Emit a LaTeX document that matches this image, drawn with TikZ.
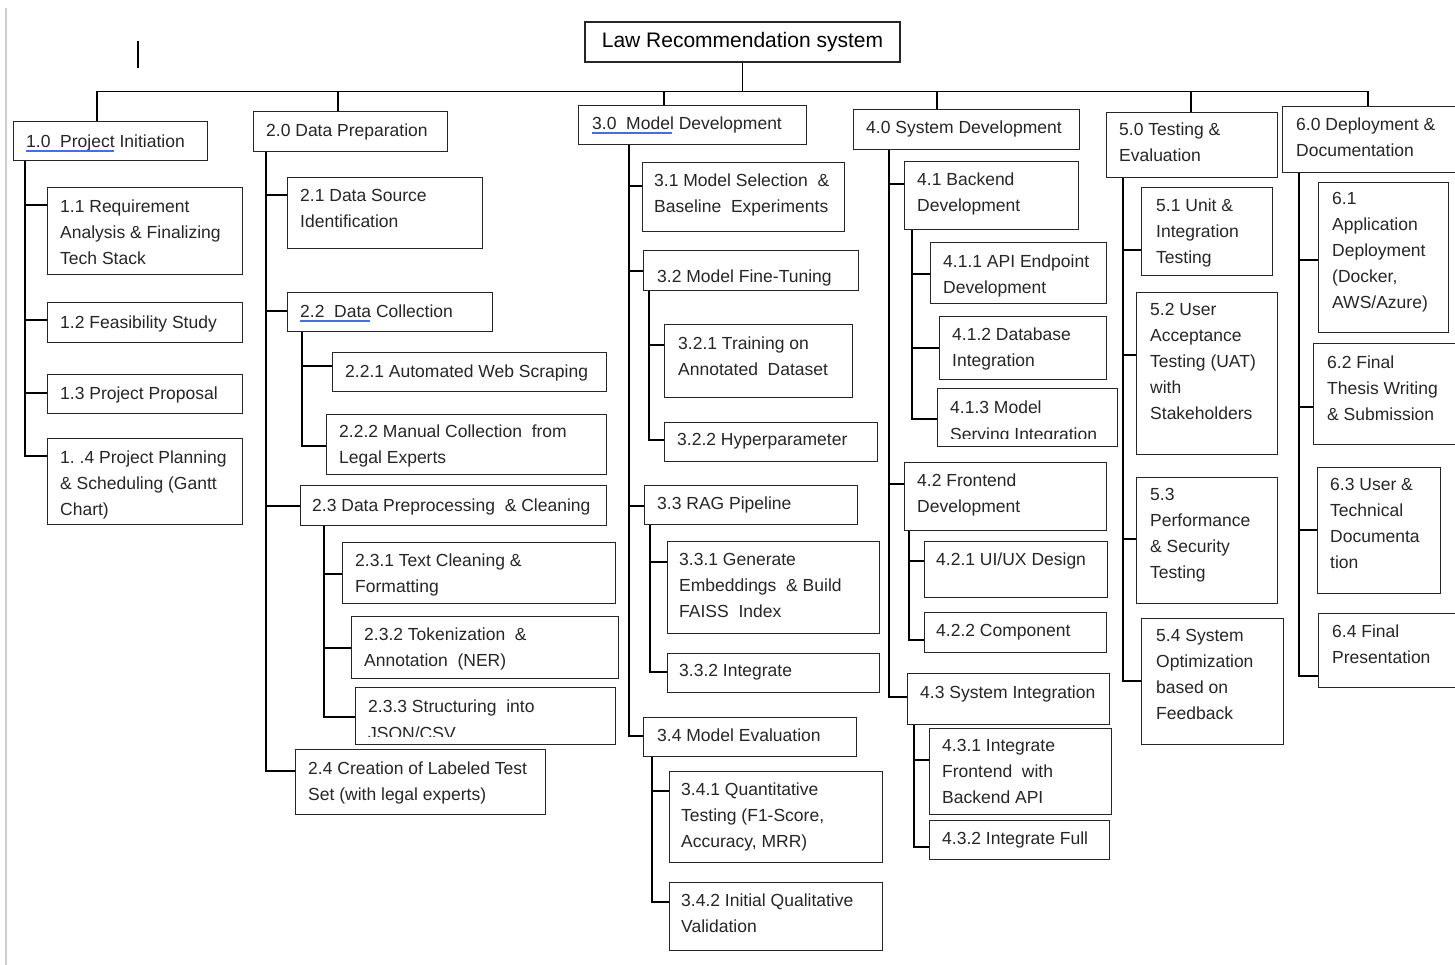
\documentclass[tikz,border=0pt]{standalone}
\usepackage{fontspec}
\setmainfont{Liberation Sans}
\definecolor{spellblue}{RGB}{70,110,220}

\begin{document}
\begin{tikzpicture}[
		x=1pt, y=-1pt
		,box/.style={draw=black!85, line width=1.2pt, anchor=north west, inner sep=0pt}
		,txt/.style={anchor=north west, yshift=12.6pt, align=left, inner sep=0pt, text=black!85, font=\fontsize{17.5}{26}\selectfont}
		,link/.style={draw=black, line width=1.2pt}
		,spell/.style={draw=spellblue, line width=1.6pt}
	]
		\fill[white] (0,0) rectangle (1455,965);
		\useasboundingbox (0,0) rectangle (1455,965);
		\draw[black!20, line width=2pt] (6,8) -- (6,965);
		\draw[line width=1.2pt] (138,41) -- (138,68);

		\node[draw=black!85, line width=1.2pt, minimum width=315, minimum height=40, inner sep=0pt, font=\fontsize{21}{25}\selectfont] (root) at (742.5,42) {Law Recommendation system};
		\coordinate (bus) at ([yshift=-29]root.south);

		% 1.0
		\node[box, minimum width=194, minimum height=39] (b10) at (13,121) {};
		\node[txt] (t10) at ([shift={(13,26)}]b10.north west) {1.0~~Project Initiation};
		\node[box, minimum width=195, minimum height=87] (b11) at (47,187) {};
		\node[txt] (t11) at ([shift={(13,25)}]b11.north west) {1.1 Requirement\\Analysis \& Finalizing\\Tech Stack};
		\node[box, minimum width=195, minimum height=40] (b12) at (47,302) {};
		\node[txt] (t12) at ([shift={(13,26)}]b12.north west) {1.2 Feasibility Study};
		\node[box, minimum width=195, minimum height=39] (b13) at (47,374) {};
		\node[txt] (t13) at ([shift={(13,25)}]b13.north west) {1.3 Project Proposal};
		\node[box, minimum width=195, minimum height=86] (b14) at (47,438) {};
		\node[txt] (t14) at ([shift={(13,25)}]b14.north west) {1.~.4 Project Planning\\\& Scheduling (Gantt\\Chart)};

		% 2.0
		\node[box, minimum width=194, minimum height=40] (b20) at (253,111) {};
		\node[txt] (t20) at ([shift={(13,25)}]b20.north west) {2.0 Data Preparation};
		\node[box, minimum width=195, minimum height=71] (b21) at (287,177) {};
		\node[txt] (t21) at ([shift={(13,25)}]b21.north west) {2.1 Data Source\\Identification};
		\node[box, minimum width=205, minimum height=39] (b22) at (287,292) {};
		\node[txt] (t22) at ([shift={(13,25)}]b22.north west) {2.2~~Data Collection};
		\node[box, minimum width=274, minimum height=39] (b221) at (332,352) {};
		\node[txt] (t221) at ([shift={(13,25)}]b221.north west) {2.2.1 Automated Web Scraping};
		\node[box, minimum width=280, minimum height=60] (b222) at (326,414) {};
		\node[txt] (t222) at ([shift={(13,23)}]b222.north west) {2.2.2 Manual Collection~~from\\Legal Experts};
		\node[box, minimum width=306, minimum height=40] (b23) at (300,485) {};
		\node[txt] (t23) at ([shift={(12,26)}]b23.north west) {2.3 Data Preprocessing~~\& Cleaning};
		\node[box, minimum width=273, minimum height=61] (b231) at (342,542) {};
		\node[txt] (t231) at ([shift={(13,24)}]b231.north west) {2.3.1 Text Cleaning~\&\\Formatting};
		\node[box, minimum width=267, minimum height=62] (b232) at (351,616) {};
		\node[txt] (t232) at ([shift={(13,24)}]b232.north west) {2.3.2 Tokenization~~\&\\Annotation~~(NER)};
		\node[box, minimum width=260, minimum height=57] (b233) at (355,687) {};
		\begin{scope}
			\clip (b233.north west) rectangle ([yshift=9]b233.south east);
			\node[txt] (t233) at ([shift={(13,25)}]b233.north west) {2.3.3 Structuring~~into\\[1pt]JSON/CSV};
		\end{scope}
		\node[box, minimum width=250, minimum height=65] (b24) at (295,749) {};
		\node[txt] (t24) at ([shift={(13,25)}]b24.north west) {2.4 Creation of Labeled Test\\Set (with legal experts)};

		% 3.0
		\node[box, minimum width=228, minimum height=39] (b30) at (578,105) {};
		\node[txt] (t30) at ([shift={(14,24)}]b30.north west) {3.0~~Model Development};
		\node[box, minimum width=202, minimum height=69] (b31) at (642,162) {};
		\node[txt] (t31) at ([shift={(12,24)}]b31.north west) {3.1 Model Selection~~\&\\Baseline~~Experiments};
		\node[box, minimum width=215, minimum height=40] (b32) at (643,250) {};
		\begin{scope}
			\clip (b32.north west) rectangle ([yshift=6]b32.south east);
			\node[txt] (t32) at ([shift={(14,32)}]b32.north west) {3.2 Model Fine-Tuning};
		\end{scope}
		\node[box, minimum width=188, minimum height=73] (b321) at (664,324) {};
		\node[txt] (t321) at ([shift={(14,25)}]b321.north west) {3.2.1 Training on\\Annotated~~Dataset};
		\node[box, minimum width=213, minimum height=39] (b322) at (664,422) {};
		\node[txt] (t322) at ([shift={(13,24)}]b322.north west) {3.2.2 Hyperparameter};
		\node[box, minimum width=213, minimum height=39] (b33) at (644,485) {};
		\node[txt] (t33) at ([shift={(13,24)}]b33.north west) {3.3 RAG Pipeline};
		\node[box, minimum width=212, minimum height=92] (b331) at (667,541) {};
		\node[txt] (t331) at ([shift={(12,25)}]b331.north west) {3.3.1 Generate\\Embeddings~~\& Build\\FAISS~~Index};
		\node[box, minimum width=212, minimum height=39] (b332) at (667,653) {};
		\node[txt] (t332) at ([shift={(12,24)}]b332.north west) {3.3.2 Integrate};
		\node[box, minimum width=213, minimum height=39] (b34) at (643,717) {};
		\node[txt] (t34) at ([shift={(14,24)}]b34.north west) {3.4 Model Evaluation};
		\node[box, minimum width=213, minimum height=91] (b341) at (669,771) {};
		\node[txt] (t341) at ([shift={(12,24)}]b341.north west) {3.4.1 Quantitative\\Testing (F1-Score,\\Accuracy, MRR)};
		\node[box, minimum width=213, minimum height=68] (b342) at (669,882) {};
		\node[txt] (t342) at ([shift={(12,24)}]b342.north west) {3.4.2 Initial Qualitative\\Validation};

		% 4.0
		\node[box, minimum width=226, minimum height=40] (b40) at (853,109) {};
		\node[txt] (t40) at ([shift={(13,24)}]b40.north west) {4.0 System Development};
		\node[box, minimum width=174, minimum height=68] (b41) at (904,161) {};
		\node[txt] (t41) at ([shift={(13,24)}]b41.north west) {4.1 Backend\\Development};
		\node[box, minimum width=176, minimum height=61] (b411) at (930,242) {};
		\node[txt] (t411) at ([shift={(13,25)}]b411.north west) {4.1.1 API Endpoint\\Development};
		\node[box, minimum width=167, minimum height=63] (b412) at (939,316) {};
		\node[txt] (t412) at ([shift={(13,24)}]b412.north west) {4.1.2 Database\\Integration};
		\node[box, minimum width=180, minimum height=58] (b413) at (937,388) {};
		\begin{scope}
			\clip (b413.north west) rectangle ([yshift=9]b413.south east);
			\node[txt] (t413) at ([shift={(13,25)}]b413.north west) {4.1.3 Model\\[1pt]Serving Integration};
		\end{scope}
		\node[box, minimum width=202, minimum height=68] (b42) at (904,462) {};
		\node[txt] (t42) at ([shift={(13,24)}]b42.north west) {4.2 Frontend\\Development};
		\node[box, minimum width=183, minimum height=56] (b421) at (924,541) {};
		\node[txt] (t421) at ([shift={(12,24)}]b421.north west) {4.2.1 UI/UX Design};
		\node[box, minimum width=182, minimum height=40] (b422) at (924,612) {};
		\node[txt] (t422) at ([shift={(12,25)}]b422.north west) {4.2.2 Component};
		\node[box, minimum width=202, minimum height=51] (b43) at (907,673) {};
		\node[txt] (t43) at ([shift={(13,25)}]b43.north west) {4.3 System Integration};
		\node[box, minimum width=182, minimum height=86] (b431) at (929,728) {};
		\node[txt] (t431) at ([shift={(13,24)}]b431.north west) {4.3.1 Integrate\\Frontend~~with\\Backend API};
		\node[box, minimum width=180, minimum height=39] (b432) at (929,820) {};
		\node[txt] (t432) at ([shift={(13,24)}]b432.north west) {4.3.2 Integrate Full};

		% 5.0
		\node[box, minimum width=171, minimum height=65] (b50) at (1106,112) {};
		\node[txt] (t50) at ([shift={(13,23)}]b50.north west) {5.0 Testing \&\\Evaluation};
		\node[box, minimum width=131, minimum height=88] (b51) at (1141,187) {};
		\node[txt] (t51) at ([shift={(15,24)}]b51.north west) {5.1 Unit \&\\Integration\\Testing};
		\node[box, minimum width=141, minimum height=162] (b52) at (1136,292) {};
		\node[txt] (t52) at ([shift={(14,24)}]b52.north west) {5.2 User\\Acceptance\\Testing (UAT)\\with\\Stakeholders};
		\node[box, minimum width=141, minimum height=126] (b53) at (1136,477) {};
		\node[txt] (t53) at ([shift={(14,24)}]b53.north west) {5.3\\Performance\\\& Security\\Testing};
		\node[box, minimum width=142, minimum height=126] (b54) at (1141,618) {};
		\node[txt] (t54) at ([shift={(15,24)}]b54.north west) {5.4 System\\Optimization\\based on\\Feedback};

		% 6.0
		\node[box, minimum width=188, minimum height=66] (b60) at (1282,106) {};
		\node[txt] (t60) at ([shift={(14,24)}]b60.north west) {6.0 Deployment \&\\Documentation};
		\node[box, minimum width=130, minimum height=150] (b61) at (1318,182) {};
		\node[txt] (t61) at ([shift={(14,23)}]b61.north west) {6.1\\Application\\Deployment\\(Docker,\\AWS/Azure)};
		\node[box, minimum width=157, minimum height=101] (b62) at (1313,343) {};
		\node[txt] (t62) at ([shift={(14,25)}]b62.north west) {6.2 Final\\Thesis Writing\\\& Submission};
		\node[box, minimum width=123, minimum height=126] (b63) at (1317,467) {};
		\node[txt] (t63) at ([shift={(13,24)}]b63.north west) {6.3 User \&\\Technical\\Documenta\\tion};
		\node[box, minimum width=152, minimum height=74] (b64) at (1318,613) {};
		\node[txt] (t64) at ([shift={(14,24)}]b64.north west) {6.4 Final\\Presentation};

		% spelling marks
		\draw[spell] ([yshift=-4]t10.base west) -- ++(88,0);
		\draw[spell] ([yshift=-4]t22.base west) -- ++(70,0);
		\draw[spell] ([yshift=-4]t30.base west) -- ++(80,0);

		% bus
		\draw[link] (root.south) -- (bus);
		\draw[link] ([xshift=84]b10.north west) |- (bus);
		\draw[link] ([xshift=85]b20.north west) |- (bus);
		\draw[link] ([xshift=86]b30.north west) |- (bus);
		\draw[link] ([xshift=84]b40.north west) |- (bus);
		\draw[link] ([xshift=85]b50.north west) |- (bus);
		\draw[link] ([xshift=86]b60.north west) |- (bus);

		% 1.0 branch
		\draw[link] ([xshift=12]b10.south west) |- ([yshift=-18]b11.north west);
		\draw[link] ([xshift=12]b10.south west) |- ([yshift=-18]b12.north west);
		\draw[link] ([xshift=12]b10.south west) |- ([yshift=-19]b13.north west);
		\draw[link] ([xshift=12]b10.south west) |- ([yshift=-18]b14.north west);

		% 2.0 branch
		\draw[link] ([xshift=13]b20.south west) |- ([yshift=-18]b21.north west);
		\draw[link] ([xshift=13]b20.south west) |- ([yshift=-19]b22.north west);
		\draw[link] ([xshift=13]b20.south west) |- ([yshift=-21]b23.north west);
		\draw[link] ([xshift=13]b20.south west) |- ([yshift=-22]b24.north west);
		\draw[link] ([xshift=15]b22.south west) |- ([yshift=-14]b221.north west);
		\draw[link] ([xshift=15]b22.south west) |- ([yshift=-32]b222.north west);
		\draw[link] ([xshift=24]b23.south west) |- ([yshift=-32]b231.north west);
		\draw[link] ([xshift=24]b23.south west) |- ([yshift=-32]b232.north west);
		\draw[link] ([xshift=24]b23.south west) |- ([yshift=-30]b233.north west);

		% 3.0 branch
		\draw[link] ([xshift=51]b30.south west) |- ([yshift=-24]b31.north west);
		\draw[link] ([xshift=51]b30.south west) |- ([yshift=-21]b32.north west);
		\draw[link] ([xshift=51]b30.south west) |- ([yshift=-21]b33.north west);
		\draw[link] ([xshift=51]b30.south west) |- ([yshift=-19]b34.north west);
		\draw[link] ([xshift=6]b32.south west) |- ([yshift=-21]b321.north west);
		\draw[link] ([xshift=6]b32.south west) |- ([yshift=-18]b322.north west);
		\draw[link] ([xshift=6]b33.south west) |- ([yshift=-21]b331.north west);
		\draw[link] ([xshift=6]b33.south west) |- ([yshift=-19]b332.north west);
		\draw[link] ([xshift=9]b34.south west) |- ([yshift=-20]b341.north west);
		\draw[link] ([xshift=9]b34.south west) |- ([yshift=-20]b342.north west);

		% 4.0 branch
		\draw[link] ([xshift=36]b40.south west) |- ([yshift=-23]b41.north west);
		\draw[link] ([xshift=36]b40.south west) |- ([yshift=-22]b42.north west);
		\draw[link] ([xshift=36]b40.south west) |- ([yshift=-24]b43.north west);
		\draw[link] ([xshift=8]b41.south west) |- ([yshift=-32]b411.north west);
		\draw[link] ([xshift=8]b41.south west) |- ([yshift=-32]b412.north west);
		\draw[link] ([xshift=8]b41.south west) |- ([yshift=-31]b413.north west);
		\draw[link] ([xshift=5]b42.south west) |- ([yshift=-20]b421.north west);
		\draw[link] ([xshift=5]b42.south west) |- ([yshift=-28]b422.north west);
		\draw[link] ([xshift=7]b43.south west) |- ([yshift=-32]b431.north west);
		\draw[link] ([xshift=7]b43.south west) |- ([yshift=-27]b432.north west);

		% 5.0 branch
		\draw[link] ([xshift=17]b50.south west) |- ([yshift=-63]b51.north west);
		\draw[link] ([xshift=17]b50.south west) |- ([yshift=-63]b52.north west);
		\draw[link] ([xshift=17]b50.south west) |- ([yshift=-62]b53.north west);
		\draw[link] ([xshift=17]b50.south west) |- ([yshift=-63]b54.north west);

		% 6.0 branch
		\draw[link] ([xshift=17]b60.south west) |- ([yshift=-78]b61.north west);
		\draw[link] ([xshift=17]b60.south west) |- ([yshift=-64]b62.north west);
		\draw[link] ([xshift=17]b60.south west) |- ([yshift=-63]b63.north west);
		\draw[link] ([xshift=17]b60.south west) |- ([yshift=-63]b64.north west);
	\end{tikzpicture}
\end{document}
